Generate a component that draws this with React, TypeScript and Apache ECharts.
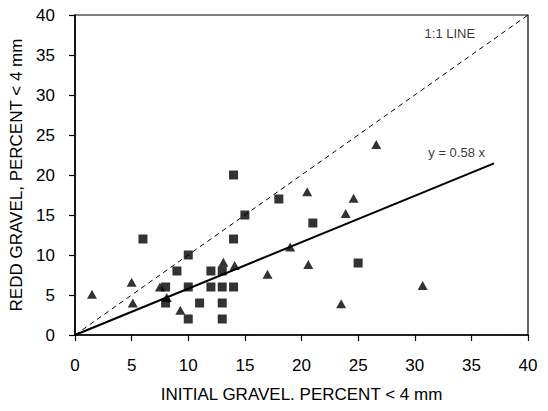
import React, { useEffect, useRef } from "react";
import * as echarts from "echarts";

const squares: number[][] = [
  [6, 12], [8, 6], [8, 4], [9, 8], [10, 10], [10, 6], [10, 2], [11, 4],
  [12, 8], [12, 6], [13, 8], [13, 6], [13, 4], [13, 2], [14, 20], [14, 12],
  [14, 6], [15, 15], [18, 17], [21, 14], [25, 9],
];

const triangles: number[][] = [
  [1.5, 5.1], [5, 6.6], [5.1, 4], [7.5, 6], [8.1, 4.7], [9.3, 3.1],
  [13.1, 9.1], [14.1, 8.7], [17, 7.6], [19, 11], [20.5, 17.9], [20.6, 8.8],
  [23.5, 3.9], [23.9, 15.2], [24.6, 17.1], [26.6, 23.8], [30.7, 6.2],
];

const oneToOne: number[][] = [[0, 0], [40, 40]];
const fitSlope = 0.58;
const fitEnd = 37;
const fitLine: number[][] = [[0, 0], [fitEnd, fitSlope * fitEnd]];

const annotations = [
  { name: "1:1 LINE", value: [33.1, 37.7] },
  { name: "y = 0.58 x", value: [33.7, 22.8] },
];

const xTitle = "INITIAL GRAVEL. PERCENT < 4 mm";
const yTitle = "REDD GRAVEL, PERCENT < 4 mm";

const FONT = "'Liberation Sans Narrow', 'Arial Narrow', 'Liberation Sans', Arial, sans-serif";

export default function App() {
  const ref = useRef<HTMLDivElement>(null);
  useEffect(() => {
    if (!ref.current) return;
    const chart = echarts.init(ref.current, undefined, { renderer: "svg" });
    const axisCommon = {
      type: "value" as const,
      min: 0,
      max: 40,
      interval: 5,
      splitLine: { show: false },
      axisLine: { show: true, onZero: false, lineStyle: { color: "#000", width: 1.6 } },
      axisTick: { show: true, inside: false, length: 6, lineStyle: { color: "#000", width: 1.2 } },
      nameTextStyle: { fontFamily: FONT, fontSize: 17, color: "#000" },
    };
    chart.setOption({
      animation: false,
      backgroundColor: "#fff",
      grid: {
        left: 75,
        right: 20,
        top: 15,
        bottom: 76,
        show: true,
        borderColor: "#000",
        borderWidth: 1.2,
        backgroundColor: "transparent",
      },
      xAxis: {
        ...axisCommon,
        name: xTitle,
        nameLocation: "middle",
        nameGap: 51,
        axisLabel: { fontFamily: FONT, fontSize: 17, color: "#000", margin: 22 },
      },
      yAxis: {
        ...axisCommon,
        name: yTitle,
        nameLocation: "middle",
        nameGap: 46,
        axisLabel: { fontFamily: FONT, fontSize: 17, color: "#000", margin: 20 },
      },
      series: [
        {
          type: "line",
          data: oneToOne,
          symbol: "none",
          lineStyle: { color: "#000", width: 1, type: [5, 4] },
          silent: true,
        },
        {
          type: "line",
          data: fitLine,
          symbol: "none",
          lineStyle: { color: "#000", width: 2 },
          silent: true,
        },
        {
          type: "scatter",
          data: squares,
          symbol: "rect",
          symbolSize: 9,
          itemStyle: { color: "#000" },
        },
        {
          type: "scatter",
          data: triangles,
          symbol: "triangle",
          symbolSize: [10, 9],
          itemStyle: { color: "#000" },
        },
        {
          type: "scatter",
          data: annotations,
          symbolSize: 0,
          label: {
            show: true,
            position: "inside",
            formatter: "{b}",
            fontFamily: FONT,
            fontSize: 13,
            color: "#000",
          },
        },
      ],
    });
    return () => chart.dispose();
  }, []);
  return (
    <div
      ref={ref}
      style={{ position: "fixed", left: 0, top: 0, width: 548, height: 411, background: "#fff" }}
    />
  );
}
